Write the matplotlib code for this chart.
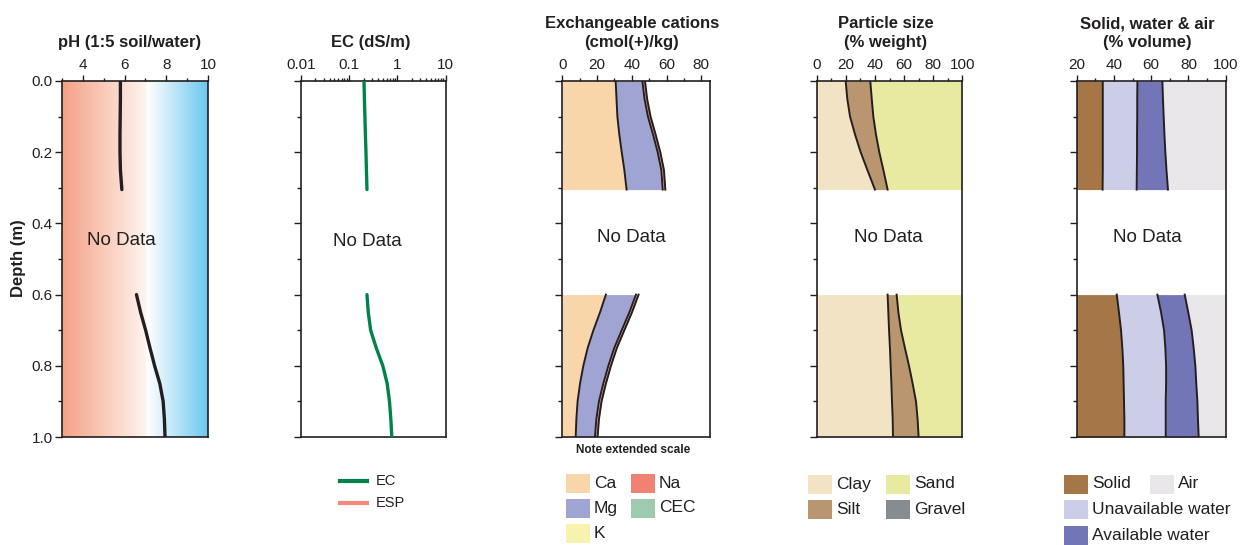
import numpy as np
import matplotlib
matplotlib.use("Agg")
import matplotlib.pyplot as plt
from matplotlib.colors import LinearSegmentedColormap
from matplotlib.lines import Line2D
from matplotlib.patches import Rectangle
from matplotlib.ticker import MultipleLocator, NullFormatter, LogLocator

plt.rcParams["font.family"] = ["Liberation Sans", "DejaVu Sans"]

# depths (m) of the two sampled layers
depth_top = [0.0, 0.05, 0.1, 0.15, 0.2, 0.25, 0.305]
depth_bot = [0.6, 0.65, 0.7, 0.75, 0.8, 0.85, 0.9, 0.95, 1.0]

# pH (1:5 soil/water)
ph_top = [5.80, 5.80, 5.79, 5.78, 5.78, 5.80, 5.87]
ph_bot = [6.57, 6.77, 7.01, 7.22, 7.44, 7.69, 7.85, 7.91, 7.94]

# EC (dS/m)
ec_top = [0.204, 0.208, 0.213, 0.218, 0.224, 0.229, 0.235]
ec_bot = [0.235, 0.25, 0.28, 0.366, 0.50, 0.616, 0.687, 0.733, 0.767]

# exchangeable cations (cmol(+)/kg)
ca_top = [30.7, 31.2, 31.7, 32.8, 34.2, 35.7, 37.0]
mg_top = [15.4, 16.1, 17.6, 19.4, 20.7, 21.3, 20.8]
k_top = [0.3, 0.3, 0.3, 0.3, 0.3, 0.3, 0.3]
na_top = [1.2, 1.2, 1.2, 1.2, 1.2, 1.2, 1.2]
ca_bot = [25.1, 21.7, 17.9, 14.6, 12.1, 10.2, 8.8, 8.1, 7.7]
mg_bot = [17.3, 16.9, 16.3, 15.3, 14.4, 13.4, 12.3, 11.5, 11.1]
k_bot = [0.3, 0.3, 0.3, 0.3, 0.3, 0.3, 0.3, 0.3, 0.3]
na_bot = [1.2, 1.2, 1.2, 1.2, 1.2, 1.2, 1.2, 1.2, 1.2]

# particle size (% weight), sand is the remainder to 100
clay_top = [19.9, 21.0, 22.9, 26.3, 30.2, 34.8, 40.0]
silt_top = [16.9, 16.8, 16.0, 14.4, 12.8, 11.0, 8.7]
clay_bot = [48.7, 49.2, 49.7, 50.3, 50.8, 51.3, 51.7, 52.2, 52.4]
silt_bot = [6.2, 6.9, 8.2, 10.3, 12.6, 14.6, 16.5, 17.1, 17.6]

# solid, water & air (% volume), air is the remainder to 100
solid_top = [34.0, 34.0, 34.0, 34.0, 34.0, 34.0, 33.9]
unavail_top = [18.6, 18.5, 18.5, 18.4, 18.4, 18.3, 18.3]
avail_top = [13.4, 13.8, 14.2, 14.7, 15.2, 15.9, 16.8]
solid_bot = [41.5, 42.7, 43.8, 44.5, 45.0, 45.2, 45.4, 45.6, 45.6]
unavail_bot = [21.8, 22.6, 23.1, 23.1, 23.0, 22.8, 22.4, 22.2, 22.2]
avail_bot = [14.7, 14.6, 14.8, 15.2, 15.7, 16.2, 17.0, 17.3, 17.7]

ink = "#231F20"
c_ca, c_mg, c_k, c_na, c_cec = "#F9D6A9", "#A0A4D2", "#F7F2AE", "#F08272", "#9ECAB0"
c_clay, c_silt, c_sand, c_gravel = "#F2E3C5", "#B9966F", "#E9EAA2", "#858D93"
c_solid, c_unavail, c_avail, c_air = "#A57746", "#CBCEE6", "#7276B7", "#E8E6E8"
c_ec, c_esp = "#00834B", "#F58A7C"

W, H = 1241, 545
fig = plt.figure(figsize=(W / 100, H / 100), dpi=100)


def px_axes(x0, x1, y0=81, y1=437):
    return fig.add_axes([x0 / W, 1 - y1 / H, (x1 - x0) / W, (y1 - y0) / H])


def style(ax, title, tx, show_y=False):
    for s in ax.spines.values():
        s.set_color(ink)
        s.set_linewidth(1.2)
    ax.set_ylim(1.0, 0.0)
    ax.yaxis.set_major_locator(MultipleLocator(0.2))
    ax.yaxis.set_minor_locator(MultipleLocator(0.1))
    ax.xaxis.set_ticks_position("top")
    ax.tick_params(axis="x", which="both", top=True, bottom=False, labeltop=True,
                   labelbottom=False, direction="out", colors=ink, labelsize=11,
                   pad=2, width=1)
    ax.tick_params(axis="x", which="major", length=4.5)
    ax.tick_params(axis="x", which="minor", length=2.5)
    ax.tick_params(axis="y", which="both", left=True, right=False, labelleft=show_y,
                   direction="out", colors=ink, labelsize=11, pad=1.5, width=1)
    ax.tick_params(axis="y", which="major", length=5)
    ax.tick_params(axis="y", which="minor", length=3)
    if show_y:
        ax.yaxis.set_major_formatter(plt.FuncFormatter(lambda v, p: f"{v:.1f}"))
    ax.text(tx, 1.087, title, transform=ax.transAxes, ha="center", va="bottom",
            fontsize=12, fontweight="bold", color=ink, linespacing=1.3)


def stack(ax, depth, parts, colors, edges, base=0.0, top=None):
    d = np.array(depth)
    left = np.full(len(d), base)
    bounds = []
    for vals, c in zip(parts, colors):
        right = left + np.array(vals)
        ax.fill_betweenx(d, left, right, color=c, lw=0, zorder=1)
        bounds.append(right)
        left = right
    if top is not None:
        ax.fill_betweenx(d, left, np.full(len(d), top[0]), color=top[1], lw=0, zorder=1)
    for i in edges:
        ax.plot(bounds[i], d, color=ink, lw=1.4, zorder=3)


def no_data(ax, x, y):
    ax.text(x, y, "No Data", transform=ax.transAxes, ha="center", va="center",
            fontsize=13.5, color=ink, zorder=4)


# --- pH
ax1 = px_axes(62, 208)
cmap = LinearSegmentedColormap.from_list(
    "ph", [(0.0, "#F3A285"), (0.57, "#FFF3EE"), (0.585, "#FFFFFF"), (1.0, "#6CC8F0")])
ax1.imshow(np.linspace(0, 1, 300)[None, :], cmap=cmap, aspect="auto",
           extent=(3, 10, 1, 0), zorder=0)
ax1.plot(ph_top, depth_top, color=ink, lw=2.4, solid_capstyle="round", zorder=3)
ax1.plot(ph_bot, depth_bot, color=ink, lw=2.4, solid_capstyle="round", zorder=3)
ax1.set_xlim(3, 10)
ax1.set_xticks([4, 6, 8, 10])
ax1.xaxis.set_minor_locator(MultipleLocator(1))
style(ax1, "pH (1:5 soil/water)", 0.466, show_y=True)
ax1.set_ylim(1.0, 0.0)
no_data(ax1, 0.41, 0.553)
fig.text(19 / W, 1 - 258 / H, "Depth (m)", rotation=90, ha="center", va="center",
         fontsize=12, fontweight="bold", color=ink)

# --- EC
ax2 = px_axes(300.7, 445.7)
ax2.set_xscale("log")
ax2.plot(ec_top, depth_top, color=c_ec, lw=2.4, solid_capstyle="round", zorder=3)
ax2.plot(ec_bot, depth_bot, color=c_ec, lw=2.4, solid_capstyle="round", zorder=3)
ax2.set_xlim(0.01, 10)
ax2.set_xticks([0.01, 0.1, 1, 10], ["0.01", "0.1", "1", "10"])
ax2.xaxis.set_minor_locator(LogLocator(base=10, subs=np.arange(2, 10)))
ax2.xaxis.set_minor_formatter(NullFormatter())
style(ax2, "EC (dS/m)", 0.481)
no_data(ax2, 0.457, 0.548)

# --- exchangeable cations
ax3 = px_axes(562.3, 710)
stack(ax3, depth_top, [ca_top, mg_top, k_top, na_top], [c_ca, c_mg, c_k, c_na], [0, 1, 3])
stack(ax3, depth_bot, [ca_bot, mg_bot, k_bot, na_bot], [c_ca, c_mg, c_k, c_na], [0, 1, 3])
ax3.set_xlim(0, 85)
ax3.set_xticks([0, 20, 40, 60, 80])
ax3.xaxis.set_minor_locator(MultipleLocator(10))
style(ax3, "Exchangeable cations\n(cmol(+)/kg)", 0.47)
no_data(ax3, 0.465, 0.559)
ax3.text(0.48, -0.037, "Note extended scale", transform=ax3.transAxes, ha="center",
         va="center", fontsize=8.5, fontweight="bold", color=ink)

# --- particle size
ax4 = px_axes(816.7, 962.3)
stack(ax4, depth_top, [clay_top, silt_top], [c_clay, c_silt], [0, 1], top=(100, c_sand))
stack(ax4, depth_bot, [clay_bot, silt_bot], [c_clay, c_silt], [0, 1], top=(100, c_sand))
ax4.set_xlim(0, 100)
ax4.set_xticks([0, 20, 40, 60, 80, 100])
ax4.xaxis.set_minor_locator(MultipleLocator(10))
style(ax4, "Particle size\n(% weight)", 0.476)
no_data(ax4, 0.49, 0.559)

# --- solid, water & air
ax5 = px_axes(1076.7, 1225.7)
stack(ax5, depth_top, [solid_top, unavail_top, avail_top], [c_solid, c_unavail, c_avail],
      [0, 1, 2], top=(100, c_air))
stack(ax5, depth_bot, [solid_bot, unavail_bot, avail_bot], [c_solid, c_unavail, c_avail],
      [0, 1, 2], top=(100, c_air))
ax5.set_xlim(20, 100)
ax5.set_xticks([20, 40, 60, 80, 100])
ax5.xaxis.set_minor_locator(MultipleLocator(10))
style(ax5, "Solid, water & air\n(% volume)", 0.472)
no_data(ax5, 0.472, 0.559)


# --- legends, placed in figure pixels
def swatch(x, y, color, label, size=12.5):
    fig.add_artist(Rectangle((x / W, 1 - (y + 9.5) / H), 24 / W, 19 / H,
                             transform=fig.transFigure, color=color, lw=0))
    fig.text((x + 28) / W, 1 - y / H, label, ha="left", va="center",
             fontsize=size, color=ink)


def line_key(x, y, color, label):
    fig.add_artist(Line2D([x / W, (x + 27) / W], [1 - y / H, 1 - y / H],
                          transform=fig.transFigure, color=color, lw=3))
    fig.text((x + 36) / W, 1 - y / H, label, ha="left", va="center",
             fontsize=10.5, color=ink)


line_key(339.5, 481, c_ec, "EC")
line_key(339.5, 503, c_esp, "ESP")

swatch(566, 483, c_ca, "Ca")
swatch(566, 508, c_mg, "Mg")
swatch(566, 533, c_k, "K")
swatch(631, 483, c_na, "Na")
swatch(631, 508, c_cec, "CEC")

swatch(808, 484, c_clay, "Clay")
swatch(808, 509, c_silt, "Silt")
swatch(886, 484, c_sand, "Sand")
swatch(886, 509, c_gravel, "Gravel")

swatch(1064, 484, c_solid, "Solid")
swatch(1064, 509, c_unavail, "Unavailable water")
swatch(1064, 535, c_avail, "Available water")
swatch(1150, 484, c_air, "Air")

fig.savefig("out.png", dpi=100)
